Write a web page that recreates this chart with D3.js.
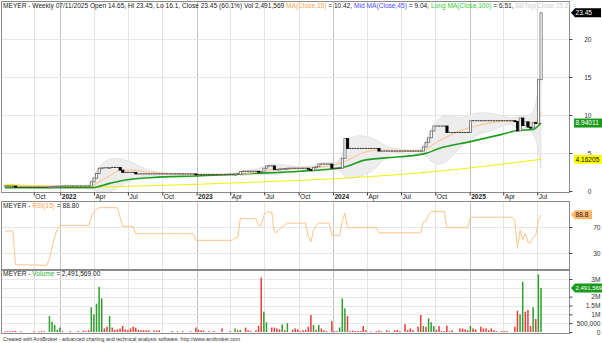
<!DOCTYPE html>
<html><head><meta charset="utf-8">
<script src="https://cdn.jsdelivr.net/npm/d3@7"></script>
<style>
body{margin:0;background:#fff;}
svg{display:block;font-family:"Liberation Sans",Arial,sans-serif;}
</style></head><body>
<svg id="c" width="602" height="343"></svg>
<script>
// ---------- DATA ----------
const firstWeek = "2021-08-06";
const lastWeekLabel = "07/11/2025";
const closes = [
0.65,0.65,0.65,0.65,0.5,0.5,0.5,0.5,0.5,0.5,
0.5,0.5,0.5,0.5,0.5,0.5,0.5,0.54,0.58,0.61,
0.63,0.65,0.65,0.65,0.65,0.65,0.65,0.65,0.65,0.65,
0.65,0.65,0.65,1.2,1.7,2.3,3.0,3.05,3.05,3.05,
3.1,3.1,3.1,3.1,2.75,2.45,2.45,2.45,2.45,2.45,
2.25,2.25,2.25,2.25,2.25,2.25,2.25,2.25,2.25,2.25,
2.25,2.25,2.25,2.25,2.25,2.25,2.25,2.25,2.25,2.25,
2.25,2.25,2.25,2.15,2.15,2.15,2.15,2.15,2.15,2.15,
2.15,2.15,2.15,2.15,2.15,2.15,2.15,2.15,2.2,2.2,
2.6,2.6,2.6,2.6,2.6,2.6,2.6,2.5,2.5,3.0,
3.3,3.3,3.3,2.8,2.8,2.9,2.9,2.95,3.0,3.0,
3.0,3.0,3.0,3.0,3.0,3.0,2.85,2.7,3.1,3.2,
3.55,3.55,3.55,3.55,3.55,3.0,3.0,3.0,3.0,4.3,
6.9,5.6,5.6,5.6,5.6,5.6,5.6,5.6,5.6,5.6,
5.6,5.6,5.6,5.25,5.25,5.25,5.25,5.25,5.25,5.25,
5.25,5.25,5.25,5.25,5.25,5.25,5.25,5.25,5.25,5.25,
5.8,6.4,7.0,7.9,8.55,8.55,8.55,8.55,8.55,7.7,
7.7,7.7,7.7,7.7,7.7,7.7,7.7,7.7,9.25,9.25,
9.25,9.25,9.25,9.25,9.25,9.25,9.25,9.25,9.25,9.25,
9.25,9.25,9.25,9.25,9.25,9.15,7.9,9.6,8.6,9.1,
8.4,8.3,9.0,8.9,14.65,23.45];
// weekly volume, millions
const volumes = [
0.03,0.05,0.03,0.05,0.06,0,0.04,0,0,0,
0,0.04,0,0.03,0.05,0.04,0,0.9,0.58,0.4,
0.13,0.25,0.04,0,0,0.05,0,0,0.06,0,
0.08,0.06,0.1,1.4,1.0,1.6,2.55,1.9,0.2,0.3,
0.9,0.25,0.12,0.15,0.2,0.35,0.15,0.12,0.2,0.3,
0.25,0.12,0.1,0.1,0.1,0.1,0,0.08,0.08,0.1,
0,0,0,0,0.05,0,0.04,0,0.05,0,
0,0.04,0,0.25,0.12,0.1,0.08,0,0.05,0,
0.06,0,0,0.2,0,0,0.05,0,0.2,0.1,
0.12,0,0.25,0.1,0.05,0,0.1,0.35,3.07,1.15,
0.55,0,0.25,0.25,0.2,0.15,0.43,0.1,0.5,0,
0.12,0.2,0.15,0.05,0.1,0.12,0.3,0.96,0.4,0.12,
0.4,0.2,0.1,0.05,0,0.62,0.05,0.05,0.26,1.9,
1.34,0.9,0.05,0.08,0.05,0.06,0.05,0.34,0.1,0,
0.03,0,0.05,0.08,0.03,0,0.1,0.05,0,0.1,
0.12,0.05,0,0.45,0.1,0.2,0.1,0,0.3,0.96,
0.34,0.3,0.77,0.55,0.34,0.12,0.34,0.05,0.05,0.36,
0.05,0.1,0,0,0.2,0.2,0.15,0.1,0.34,0.2,
0.15,0,0.3,0.2,0.2,0.1,0.2,0.1,0.05,0,
0.05,0.05,0.05,0,0,0.3,1.2,1.0,2.85,1.15,
1.25,0.34,1.4,0.74,3.26,2.491569];
// weeks whose volume bar is green
const volUpWeeks = [17,18,19,20,21,33,34,35,36,37,40,88,90,99,100,106,108,118,120,128,129,130,160,162,163,164,178,197,198,202,204,205];
// RSI(15) [week, value]
const rsiPts = [[0,63.8],[3,63.8],[4,12],[16,11],[17,21],[18,39],[19,55],[20,66],[21,72.5],[32,72.5],[33,85],[34,93],[35,97.5],[36,99.7],[43,99.7],[44,85],[45,71],[49,71],[50,59.7],[72,59.7],[73,49.5],[87,49.5],[88,53.6],[89,53.6],[90,82.8],[96,82.8],[97,72.5],[98,72.5],[99,88],[100,93],[102,93],[103,62],[104,62],[105,67],[107,72.5],[108,76],[115,76],[116,55],[117,47],[118,65],[119,72.5],[120,76],[124,76],[125,57],[128,57],[129,80],[130,91.5],[131,69],[142,69],[143,61],[159,61],[160,77.7],[161,78.7],[162,88],[163,94],[168,94],[169,69],[177,69],[178,85],[194,85],[195,80],[196,36.7],[197,65],[198,50.5],[199,59.7],[200,47],[201,45.4],[202,54.7],[203,57],[204,80],[205,88.8]];
// MA(Close,15) [week, value]
const maShortPts = [[0,0.65],[32,0.62],[36,1.2],[40,2.0],[44,2.7],[48,2.75],[55,2.45],[63,2.3],[75,2.2],[88,2.2],[96,2.45],[103,2.85],[113,2.95],[124,3.3],[130,3.9],[136,4.9],[143,5.4],[159,5.3],[166,6.6],[174,7.9],[182,8.7],[193,9.2],[201,9.0],[204,9.4],[205,10.42]];
// green line [week, value]
const greenPts = [[0,0.45],[33,0.42],[40,1.0],[46,1.45],[55,1.75],[75,2.0],[94,2.3],[113,2.6],[129,3.1],[138,4.1],[151,4.5],[161,4.95],[166,5.6],[178,6.5],[190,7.45],[196,7.95],[202,8.1],[205,8.94011]];
// yellow line [week, value]
const yellowPts = [[0,0.9],[18,0.6],[34,0.55],[56,0.7],[75,0.9],[98,1.2],[124,1.58],[164,2.55],[205,4.16205]];
// Bollinger cloud [week, top, bottom]
const bbPts = [[0,0.7,0.6],[30,0.68,0.62],[32,0.7,0.6],[34,1.8,0.3],[36,3.5,-0.5],[40,4.3,-0.3],[44,4.3,0.6],[48,3.9,1.4],[52,3.2,1.8],[55,2.7,2.0],[61,2.35,2.15],[67,2.27,2.23],[72,2.27,2.2],[74,2.25,2.08],[80,2.2,2.1],[88,2.22,2.12],[91,2.7,2.0],[95,2.75,2.2],[99,3.2,2.2],[102,3.6,2.1],[106,3.5,2.3],[110,3.25,2.6],[116,3.15,2.7],[120,3.7,2.6],[124,3.8,2.9],[128,3.6,2.9],[130,6.3,1.6],[133,7.3,1.7],[137,7.3,2.0],[141,7.0,2.7],[144,6.2,3.8],[147,5.8,4.8],[150,5.5,5.1],[155,5.38,5.15],[159,5.33,5.18],[161,6.5,4.6],[163,8.3,3.8],[166,9.7,3.4],[169,10.0,3.8],[172,9.8,5.0],[175,9.6,6.0],[178,10.1,6.8],[181,10.3,7.5],[186,10.3,7.9],[190,9.9,8.5],[194,9.5,9.0],[196,9.9,7.9],[199,10.0,7.9],[202,9.9,8.0],[204,13,5.5],[205,18,3]];
const tickDates = ["2021-10-22","2022-01-01","2022-04-01","2022-07-01","2022-10-01","2023-01-01","2023-04-01","2023-07-01","2023-10-01","2024-01-01","2024-04-01","2024-07-01","2024-10-01","2025-01-01","2025-04-01","2025-07-01"];
const priceTicks = [0,5,10,15,20];
const rsiTicks = [30,70];
const volTicks = [0,0.5,1,1.5,2,3];
const volTickLabels = ["0","500,000","1M","1.5M","2M","3M"];

// ---------- LAYOUT ----------
const svg = d3.select("#c");
const L = 1, R = 569;
const P = {top:1, bot:192}, Q = {top:201, bot:269}, V = {top:270, bot:333};
const parse = d3.timeParse("%Y-%m-%d");
const d0 = parse(firstWeek);
const dates = closes.map((_, i) => d3.timeDay.offset(d0, 7 * i));
const x = d3.scaleTime().domain([dates[0], dates[dates.length - 1]]).range([5, 541]);
const yP = d3.scaleLinear().domain([0, 20]).range([191, 39]);
const yR = d3.scaleLinear().domain([30, 70]).range([253, 227]);
const yV = d3.scaleLinear().domain([0, 3]).range([332, 279]);
const ticks = tickDates.map(parse);
const font = 6.6;

svg.append("rect").attr("width", 602).attr("height", 343).attr("fill", "#fff");
const defs = svg.append("defs");
[["cp", P], ["cr", Q], ["cv", V]].forEach(([id, p]) => {
  defs.append("clipPath").attr("id", id).append("rect")
    .attr("x", L).attr("y", p.top).attr("width", R - L).attr("height", p.bot - p.top);
});

// grids
function grids(p, yScale, vals) {
  const g = svg.append("g");
  g.selectAll(".v").data(ticks).join("line")
    .attr("x1", d => Math.round(x(d)) + 0.5).attr("x2", d => Math.round(x(d)) + 0.5)
    .attr("y1", p.top).attr("y2", p.bot)
    .attr("stroke", d => d.getMonth() === 0 ? "#c4c4c4" : "#e4e4e4").attr("stroke-width", 1);
  g.selectAll(".h").data(vals).join("line")
    .attr("x1", L).attr("x2", R)
    .attr("y1", d => Math.round(yScale(d)) + 0.5).attr("y2", d => Math.round(yScale(d)) + 0.5)
    .attr("stroke", "#e6e6e6");
}
grids(P, yP, [5, 10, 15, 20]);
grids(Q, yR, rsiTicks);
grids(V, yV, [0.5, 1, 1.5, 2, 2.5, 3]);

// ---------- PRICE PANE ----------
const gp = svg.append("g").attr("clip-path", "url(#cp)");
gp.append("path").datum(bbPts)
  .attr("d", d3.area().x(d => x(dates[d[0]])).y0(d => yP(d[2])).y1(d => yP(d[1])).curve(d3.curveBasis))
  .attr("fill", "#ededed").attr("stroke", "#dadada").attr("stroke-width", 0.6);
const line = (ys) => d3.line().x(d => x(dates[d[0]])).y(d => ys(d[1])).curve(d3.curveMonotoneX);
gp.append("path").datum(yellowPts).attr("d", line(yP)).attr("fill", "none").attr("stroke", "#f2f200").attr("stroke-width", 1);
gp.append("path").datum(greenPts).attr("d", line(yP)).attr("fill", "none").attr("stroke", "#1f9f1f").attr("stroke-width", 1.6);
gp.append("path").datum(maShortPts).attr("d", line(yP)).attr("fill", "none").attr("stroke", "#ffbf80").attr("stroke-width", 1);

// candles
const bars = closes.map((c, i) => ({i, o: i ? closes[i - 1] : c, c}));
gp.selectAll(".cd").data(bars).join("rect")
  .attr("x", d => x(dates[d.i]) - 1)
  .attr("width", 2.2)
  .attr("y", d => d.o === d.c ? yP(d.c) - 0.5 : yP(Math.max(d.o, d.c)))
  .attr("height", d => d.o === d.c ? 1 : Math.max(1, Math.abs(yP(d.o) - yP(d.c))))
  .attr("fill", d => d.o === d.c ? "#333" : (d.c > d.o ? "#fff" : "#000"))
  .attr("stroke", d => d.o === d.c ? "none" : (d.c > d.o ? "#6a6a6a" : "#000"))
  .attr("stroke-width", 0.8);

// ---------- RSI PANE ----------
const gr = svg.append("g").attr("clip-path", "url(#cr)");
gr.append("path").datum(rsiPts).attr("d", d3.line().x(d => x(dates[d[0]])).y(d => yR(d[1])))
  .attr("fill", "none").attr("stroke", "#ffc48a").attr("stroke-width", 1);

// ---------- VOLUME PANE ----------
const up = new Set(volUpWeeks);
const gv = svg.append("g").attr("clip-path", "url(#cv)");
gv.selectAll(".vb").data(volumes.map((v, i) => ({v, i})).filter(d => d.v > 0)).join("rect")
  .attr("x", d => x(dates[d.i]) - 0.75).attr("width", 1.5)
  .attr("y", d => yV(d.v)).attr("height", d => Math.max(0.8, yV(0) - yV(d.v)))
  .attr("fill", d => up.has(d.i) ? "#2e9e2e" : "#ee3b3b");

// ---------- FRAMES ----------
[P, Q, V].forEach(p => {
  svg.append("rect").attr("x", L - 0.5 + 1).attr("y", p.top + 0.5).attr("width", R - L).attr("height", p.bot - p.top)
    .attr("fill", "none").attr("stroke", "#8a8a8a").attr("stroke-width", 1);
});

// date axis
const xa = svg.append("g").attr("transform", `translate(0,${P.bot + 0.5})`)
  .call(d3.axisBottom(x).tickValues(ticks).tickSize(3).tickFormat(d => d.getMonth() === 0 ? d3.timeFormat("%Y")(d) : d3.timeFormat("%b")(d)));
xa.select(".domain").remove();
xa.selectAll(".tick line").attr("stroke", "#333");
xa.selectAll(".tick text").attr("text-anchor", "start").attr("x", 1).attr("y", 0).attr("dy", "6.6px")
  .attr("font-size", font).attr("fill", "#222").attr("font-family", "Liberation Sans, Arial")
  .attr("font-weight", d => d.getMonth() === 0 ? "bold" : "normal");

// right axes
function rightAxis(scale, vals, fmt, labelX) {
  const g = svg.append("g").attr("transform", `translate(${R + 0.5},0)`)
    .call(d3.axisRight(scale).tickValues(vals).tickSize(3).tickFormat(fmt));
  g.select(".domain").remove();
  g.selectAll(".tick line").attr("stroke", "#444");
  g.selectAll(".tick text").attr("x", labelX).attr("text-anchor", "end").attr("font-size", font)
    .attr("fill", "#333").attr("font-family", "Liberation Sans, Arial");
}
rightAxis(yP, priceTicks, d => d, 22);
rightAxis(yR, rsiTicks, d => d, 31);
rightAxis(yV, volTicks, (d, i) => volTickLabels[i], 31);

// value tags
function tag(y, txt, fill, color, w, arrow, fs) {
  const x0 = R + 2, h = 9;
  const g = svg.append("g");
  const p = arrow
    ? `M${x0},${y} L${x0 + 4},${y - h / 2} L${x0 + w},${y - h / 2} L${x0 + w},${y + h / 2} L${x0 + 4},${y + h / 2} Z`
    : `M${x0 + 3},${y - h / 2} L${x0 + w},${y - h / 2} L${x0 + w},${y + h / 2} L${x0 + 3},${y + h / 2} Z`;
  g.append("path").attr("d", p).attr("fill", fill);
  g.append("text").attr("x", x0 + 4.5).attr("y", y + 2.4).attr("font-size", fs || font).attr("fill", color).text(txt);
}
tag(yP(closes[closes.length - 1]), "23.45", "#000", "#fff", 30, true);
tag(yP(greenPts[greenPts.length - 1][1]), "8.94011", "#1a9a1a", "#fff", 31, false);
tag(yP(yellowPts[yellowPts.length - 1][1]), "4.16205", "#ffff00", "#000", 31, false);
tag(yR(rsiPts[rsiPts.length - 1][1]), "88.8", "#ffb56b", "#222", 21, true);
tag(yV(volumes[volumes.length - 1]), "2,491,569", "#1a9a1a", "#fff", 31, true, 6);

// titles
function title(y, parts) {
  const t = svg.append("text").attr("x", 3).attr("y", y).attr("font-size", font).attr("fill", "#222");
  parts.forEach(([s, c]) => t.append("tspan").attr("fill", c).text(s));
}
title(7.5, [["MEYER - Weekly " + lastWeekLabel + " Open 14.65, Hi 23.45, Lo 16.1, Close 23.45 (60.1%) Vol 2,491,569 ", "#222"],
  ["MA(Close,15)", "#ffa24d"], [" = 10.42, ", "#222"], ["Mid MA(Close,45)", "#4b4bff"], [" = 9.04, ", "#222"],
  ["Long MA(Close,100)", "#33cc33"], [" = 6.51, ", "#222"], ["BBTop(Close,15,2) =", "#cfcfcf"]]);
title(207.5, [["MEYER - ", "#222"], ["RSI(15)", "#ffa24d"], [" = 88.80", "#222"]]);
title(275.5, [["MEYER - ", "#222"], ["Volume", "#33b033"], [" = 2,491,569.00", "#222"]]);
svg.append("text").attr("x", 3).attr("y", 340.5).attr("font-size", 5.2).attr("fill", "#333")
  .text("Created with AmiBroker - advanced charting and technical analysis software. http://www.amibroker.com");
</script>
</body></html>
